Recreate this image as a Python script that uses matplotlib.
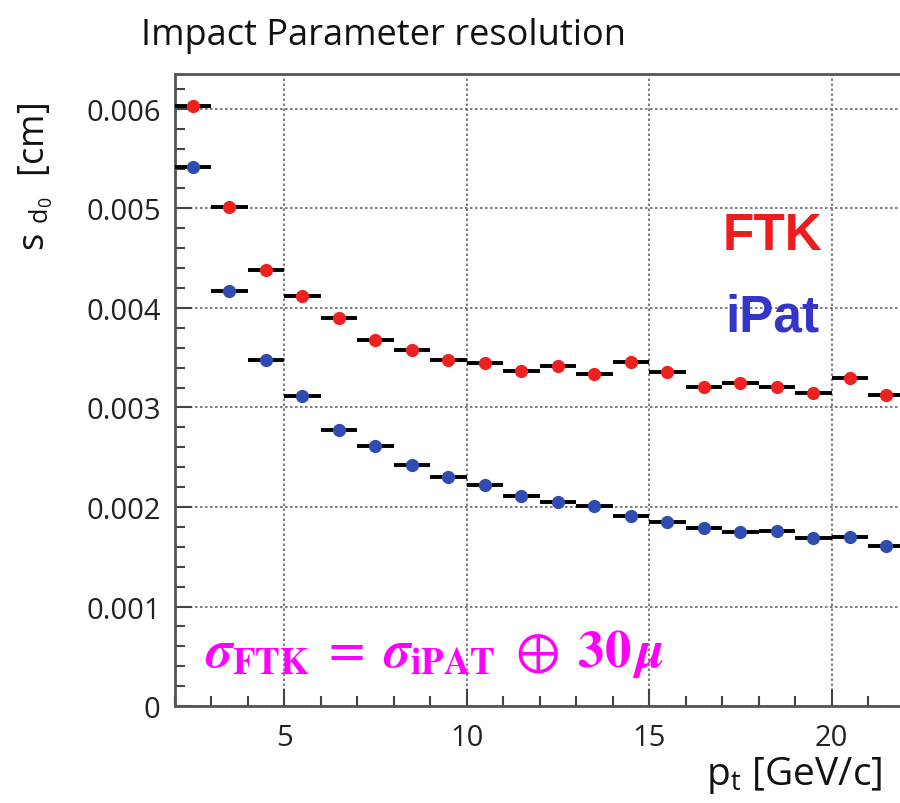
import numpy as np
import matplotlib.pyplot as plt
from matplotlib.ticker import MultipleLocator

# bin centres in pt [GeV/c], bin width 1
pt_centers = [2.5, 3.5, 4.5, 5.5, 6.5, 7.5, 8.5, 9.5, 10.5, 11.5, 12.5,
              13.5, 14.5, 15.5, 16.5, 17.5, 18.5, 19.5, 20.5, 21.5]
pt_halfwidth = 0.5

# sigma d0 [cm]
ftk_res = [0.00603, 0.00501, 0.00438, 0.00412, 0.00390, 0.00368, 0.00358,
           0.00348, 0.00345, 0.00337, 0.00342, 0.00334, 0.00346, 0.00336,
           0.00321, 0.00325, 0.00321, 0.00315, 0.00330, 0.00312]
ipat_res = [0.00542, 0.00417, 0.00348, 0.00311, 0.00277, 0.00261, 0.00242,
            0.00230, 0.00222, 0.00211, 0.00205, 0.00201, 0.00191, 0.00185,
            0.00179, 0.00175, 0.00176, 0.00169, 0.00170, 0.00161]

plt.rcParams['font.family'] = ['Open Sans', 'DejaVu Sans']
plt.rcParams['mathtext.fontset'] = 'stix'

fig = plt.figure(figsize=(9, 8.04), dpi=100)
ax = fig.add_axes([0.194, 0.1206, 0.806, 0.7861])

for vals, col in [(ftk_res, '#ee2020'), (ipat_res, '#2f4db0')]:
    ax.errorbar(pt_centers, vals, xerr=pt_halfwidth, fmt='o', color=col,
                ecolor='black', elinewidth=2.8, markersize=8.5, capsize=0, zorder=3)

ax.set_xlim(2, 21.87)
ax.set_ylim(0, 0.00635)
ax.xaxis.set_major_locator(MultipleLocator(5))
ax.xaxis.set_minor_locator(MultipleLocator(1))
ax.yaxis.set_major_locator(MultipleLocator(0.001))
ax.yaxis.set_minor_locator(MultipleLocator(0.0002))
ax.yaxis.set_major_formatter(plt.FuncFormatter(lambda v, p: '0' if v == 0 else f'{v:.3f}'))

ax.grid(True, which='major', linestyle=(0, (1.5, 1.5)), color='#666666', linewidth=1.2)
ax.tick_params(which='both', direction='in', color='#444444', width=1.5,
               labelsize=21, colors='#222222')
ax.tick_params(which='major', length=12, pad=10)
ax.tick_params(which='minor', length=7)
ax.tick_params(axis='x', pad=12)

for s in ['left', 'bottom', 'top']:
    ax.spines[s].set_color('#555555')
    ax.spines[s].set_linewidth(2)
ax.spines['right'].set_visible(False)

fig.text(0.426, 0.955, 'Impact Parameter resolution', fontsize=26,
         ha='center', va='center', color='#111111')

fig.text(0.04, 0.78, r's $_{\mathregular{d}_\mathregular{0}}$  [cm]', rotation=90,
         fontsize=26, ha='center', va='center', color='#111111')
fig.text(0.882, 0.035, r'p$_\mathregular{t}$ [GeV/c]', fontsize=28,
         ha='center', va='center', color='#111111')

ax.text(0.824, 0.745, 'FTK', transform=ax.transAxes, fontsize=37,
        fontweight='bold', color='#ee1c1c', family='Liberation Sans',
        ha='center', va='center')
ax.text(0.824, 0.616, 'iPat', transform=ax.transAxes, fontsize=37,
        fontweight='bold', color='#3535c8', family='Liberation Sans',
        ha='center', va='center')

ax.text(0.042, 0.085,
        r'$\boldsymbol{\sigma}_{\mathbf{FTK}}\;=\;\boldsymbol{\sigma}_{\mathbf{iPAT}}\;\oplus\;\mathbf{30}\,\boldsymbol{\mu}$',
        transform=ax.transAxes, fontsize=38, color='#ff00ff',
        ha='left', va='center')

fig.savefig('out.png', dpi=100)
